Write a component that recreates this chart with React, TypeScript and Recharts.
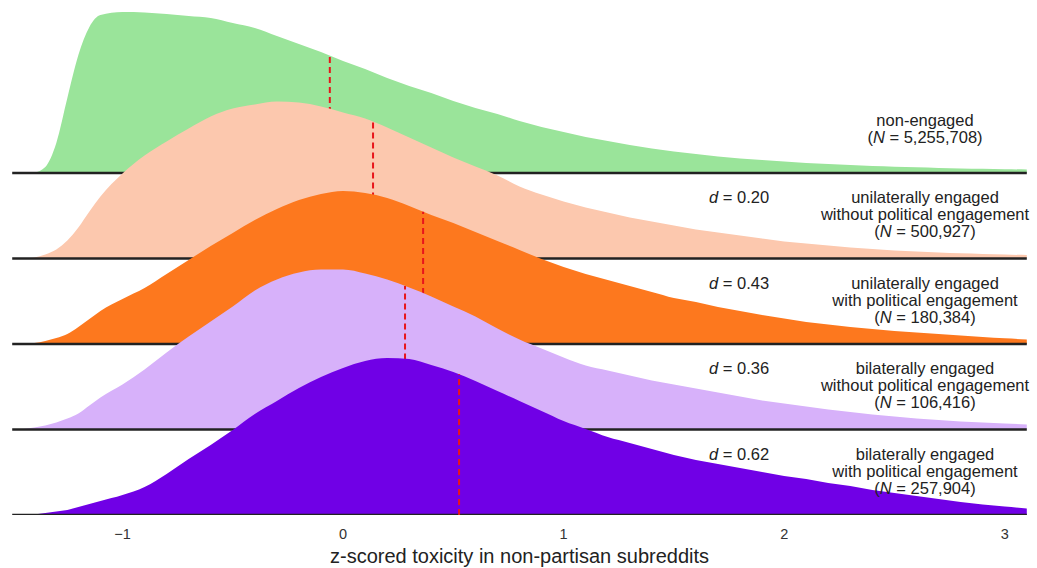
import React from 'react';
import { ComposedChart, Area, XAxis, YAxis } from 'recharts';

// x grid (z-scored toxicity)
const xs = [
  -1.5, -1.45, -1.4, -1.35, -1.3, -1.25, -1.2, -1.15, -1.1,
  -1.0, -0.9, -0.8, -0.7, -0.6, -0.5, -0.4, -0.3, -0.2, -0.1, 0,
  0.1, 0.2, 0.3, 0.4, 0.5, 0.6, 0.7, 0.8, 0.9, 1.0,
  1.1, 1.2, 1.3, 1.4, 1.5, 1.6, 1.7, 1.8, 1.9, 2.0,
  2.1, 2.2, 2.3, 2.4, 2.5, 2.6, 2.7, 2.8, 2.9, 3.0, 3.1,
];

// density heights (scaled), one value per x
const nonEngaged = [
  0, 0, 0.5, 6, 30, 75, 118, 146, 158,
  161, 160.5, 159, 157, 155, 150, 145, 137, 129, 121, 112,
  104, 95, 87, 80, 72, 65, 59, 52, 46, 41,
  36, 32, 28, 24.5, 21.5, 19, 16.5, 14.5, 13, 11.5,
  10, 9, 8, 7, 6.3, 5.7, 5.1, 4.6, 4.2, 3.8, 3.5,
];
const uniWithout = [
  0, 0, 1, 4, 9, 18, 31, 47, 62,
  85, 103, 117, 130, 142, 150, 154, 157, 156, 152, 146,
  140, 131, 121, 111, 101, 92, 83, 72, 64, 57,
  51, 46, 41, 37, 33, 29, 26, 23, 20, 17,
  15, 13, 11, 9.5, 8, 7, 6, 5.2, 4.5, 3.9, 3.4,
];
const uniWith = [
  0, 0.5, 1, 3, 6, 10, 17, 25, 33,
  45, 56, 70, 84, 98, 111, 124, 135, 144, 150, 153,
  151, 146, 138, 129, 121, 112, 103, 94, 85, 77,
  70, 64, 58, 52, 46, 42, 37, 33, 29, 25.5,
  22, 19.5, 17, 15, 13, 11.5, 10, 8.5, 7, 5.7, 4.6,
];
const biWithout = [
  0, 0.5, 2, 4, 7, 11, 16, 24, 32,
  45, 60, 77, 93, 108, 123, 139, 150, 157, 160, 160,
  156, 150, 142, 133, 123, 113, 101, 90, 81, 72,
  64, 59, 54, 49, 45, 41, 37, 33, 29, 26,
  23, 20, 17.5, 15, 13, 11, 9.5, 8, 7, 6, 5,
];
const biWith = [
  0, 0, 0.5, 2, 3.5, 5, 8, 11, 14,
  20, 28, 41, 56, 70, 85, 101, 114, 127, 138, 147,
  154, 157, 156, 150, 143, 134, 124, 114, 104, 94,
  86, 78, 72, 66, 60, 55, 51, 47, 43, 39,
  36, 32, 29, 25, 22, 19, 16, 13, 10.5, 8.5, 6.5,
];

const groupKeys = ['g0', 'g1', 'g2', 'g3', 'g4'];
const groupSeries = [nonEngaged, uniWithout, uniWith, biWithout, biWith];
const groupMeans = [-0.06, 0.136, 0.363, 0.281, 0.526];
const groupColors = ['#9AE49A', '#FCC8AE', '#FD781E', '#D7B1FA', '#7000E6'];
const groupLabels = [
  ['non-engaged', '5,255,708'],
  ['unilaterally engaged', 'without political engagement', '500,927'],
  ['unilaterally engaged', 'with political engagement', '180,384'],
  ['bilaterally engaged', 'without political engagement', '106,416'],
  ['bilaterally engaged', 'with political engagement', '257,904'],
];
const effectSizes = [null, '0.20', '0.43', '0.36', '0.62'];
const xTicks = [-1, 0, 1, 2, 3];

const SCALE = 1 / 85.5; // density units -> ridge spacing units
const N = groupKeys.length;
const offsetOf = (i: number) => N - 1 - i;

const table = xs.map((x, j) => {
  const row: any = { x };
  groupKeys.forEach((k, i) => {
    const off = offsetOf(i);
    row[k] = [off, off + groupSeries[i][j] * SCALE];
    row[k + '_base'] = off;
  });
  return row;
});

const interp = (vals: number[], m: number) => {
  for (let j = 0; j < xs.length - 1; j++) {
    if (m >= xs[j] && m <= xs[j + 1]) {
      const t = (m - xs[j]) / (xs[j + 1] - xs[j]);
      return vals[j] + t * (vals[j + 1] - vals[j]);
    }
  }
  return 0;
};

const meanData = groupKeys.map((k, i) => {
  const off = offsetOf(i);
  return [
    { x: groupMeans[i], v: off },
    { x: groupMeans[i], v: off + interp(groupSeries[i], groupMeans[i]) * SCALE },
  ];
});

const W = 1037;
const H = 568;
const PLOT_BOTTOM = 515;
const SPACING = 85.5;
const LABEL_FONT = 16.5;

export default function App() {
  const items: any[] = [];
  groupKeys.forEach((k, i) => {
    items.push(
      <Area
        key={k + 'fill'}
        dataKey={k}
        type="monotone"
        fill={groupColors[i]}
        fillOpacity={1}
        stroke="none"
        isAnimationActive={false}
        dot={false}
        activeDot={false}
      />
    );
    items.push(
      <Area
        key={k + 'base'}
        dataKey={k + '_base'}
        type="linear"
        fill="none"
        stroke="#222"
        strokeWidth={2.5}
        isAnimationActive={false}
        dot={false}
        activeDot={false}
      />
    );
    items.push(
      <Area
        key={k + 'mean'}
        data={meanData[i]}
        dataKey="v"
        type="linear"
        fill="none"
        stroke="#E8151B"
        strokeWidth={2}
        strokeDasharray="6 4"
        isAnimationActive={false}
        dot={false}
        activeDot={false}
      />
    );
  });

  return (
    <div
      style={{
        position: 'absolute',
        left: 0,
        top: 0,
        width: W,
        height: H,
        background: '#fff',
        fontFamily: '"Liberation Sans", Arial, sans-serif',
        color: '#222',
      }}
    >
      <ComposedChart
        width={W}
        height={H}
        data={table}
        margin={{ top: 2, right: 8, bottom: 0, left: 10 }}
      >
        <XAxis
          dataKey="x"
          type="number"
          domain={[-1.51, 3.11]}
          allowDataOverflow
          ticks={xTicks}
          axisLine={false}
          tickLine={false}
          tickMargin={8}
          height={53}
          tick={{ fontSize: 14.5, fill: '#333' }}
          tickFormatter={(v: number) => (v < 0 ? `\u2212${Math.abs(v)}` : `${v}`)}
          label={{
            value: 'z-scored toxicity in non-partisan subreddits',
            position: 'insideBottom',
            offset: 5,
            fontSize: 20,
            fill: '#222',
          }}
        />
        <YAxis hide type="number" domain={[0, 6]} allowDataOverflow />
        {items}
      </ComposedChart>
      {groupLabels.map((lines, i) => {
        const base = PLOT_BOTTOM - offsetOf(i) * SPACING;
        const nameLines = lines.slice(0, lines.length - 1);
        const n = lines[lines.length - 1];
        const top = base - (lines.length === 2 ? 61.5 : 69.5);
        return (
          <React.Fragment key={'lab' + i}>
            <div
              style={{
                position: 'absolute',
                left: 925 - 130,
                width: 260,
                top,
                textAlign: 'center',
                fontSize: LABEL_FONT,
                lineHeight: '17px',
                whiteSpace: 'nowrap',
              }}
            >
              {nameLines.map((t, j) => (
                <div key={j}>{t}</div>
              ))}
              <div>
                (<i>N</i> = {n})
              </div>
            </div>
            {effectSizes[i] && (
              <div
                style={{
                  position: 'absolute',
                  left: 709,
                  top,
                  fontSize: LABEL_FONT,
                  lineHeight: '17px',
                  whiteSpace: 'nowrap',
                }}
              >
                <i>d</i> = {effectSizes[i]}
              </div>
            )}
          </React.Fragment>
        );
      })}
    </div>
  );
}
